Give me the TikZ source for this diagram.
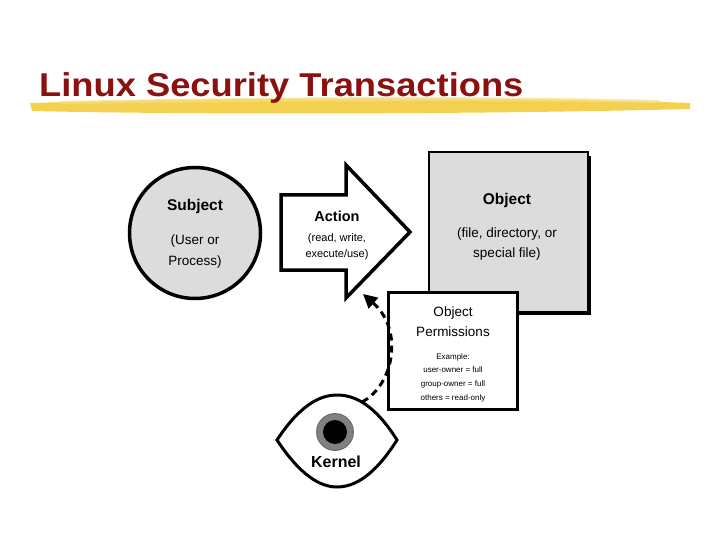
\documentclass[tikz,border=0pt]{standalone}
\usepackage{fontspec}
\setmainfont{Liberation Sans}
\usetikzlibrary{arrows.meta}
\definecolor{titlered}{HTML}{8B1010}
\definecolor{hl}{HTML}{F2C832}
\definecolor{boxgray}{HTML}{DCDCDC}
\begin{document}
\begin{tikzpicture}[x=1pt,y=-1pt,
  txt/.style={inner sep=0pt,anchor=base},
  shape line/.style={draw=black,line width=3.5pt,line join=miter}]
\useasboundingbox (0,0) rectangle (720,540);
% title
\fill[hl,opacity=0.85] (30,103) .. controls (200,98) and (500,96) .. (690,103) -- (690,109) .. controls (500,114) and (200,115) .. (32,111) -- cycle;
\fill[hl!60!white,opacity=0.7] (60,101) .. controls (300,96) and (500,96) .. (660,100) -- (660,103) .. controls (500,100) and (300,101) .. (60,104) -- cycle;
\node[txt,anchor=base west,text=titlered,xscale=1.1,font=\bfseries\fontsize{33}{33}\selectfont] (title) at (39,97) {Linux Security Transactions};
% subject
\node[circle,shape line,fill=boxgray,minimum size=131pt] (subj) at (195,233) {};
\node[txt] (subjt) at (195,211) {\bfseries\fontsize{15.5}{15.5}\selectfont Subject};
\node[txt] (subj1) at (195,244) {\fontsize{13.5}{13.5}\selectfont (User or};
\node[txt] (subj2) at (195,265) {\fontsize{13.5}{13.5}\selectfont Process)};
% object (shadow + box)
\fill[black] (432,156) rectangle (591,315);
\node[draw=black,line width=2pt,fill=boxgray,minimum width=159pt,minimum height=159pt] (obj) at (508,232) {};
\node[txt] (objt) at (507,205) {\bfseries\fontsize{15.5}{15.5}\selectfont Object};
\node[txt] (obj1) at (507,237) {\fontsize{13.5}{13.5}\selectfont (file, directory, or};
\node[txt] (obj2) at (507,258) {\fontsize{13.5}{13.5}\selectfont special file)};
% action arrow
\draw[shape line,fill=white] (281,195) -- (346,195) -- (346,165) -- (410,232) -- (346,298) -- (346,270) -- (281,270) -- cycle;
\node[txt] (act) at (337,222) {\bfseries\fontsize{14.5}{14.5}\selectfont Action};
\node[txt] (act1) at (337,241) {\fontsize{11}{11}\selectfont (read, write,};
\node[txt] (act2) at (337,258) {\fontsize{11}{11}\selectfont execute/use)};
% permissions
\node[draw=black,line width=3pt,fill=white,minimum width=129pt,minimum height=117pt] (perm) at (453,351) {};
\node[txt] (p1) at (453,316) {\fontsize{13.5}{13.5}\selectfont Object};
\node[txt] (p2) at (453,336) {\fontsize{13.5}{13.5}\selectfont Permissions};
\node[txt] (p3) at (453,359) {\fontsize{8}{8}\selectfont Example:};
\node[txt] (p4) at (453,372) {\fontsize{8}{8}\selectfont user-owner = full};
\node[txt] (p5) at (453,386) {\fontsize{8}{8}\selectfont group-owner = full};
\node[txt] (p6) at (453,400) {\fontsize{8}{8}\selectfont others = read-only};
% eye
\coordinate (eyeL) at (277,440);
\coordinate (eyeR) at (397,440);
\draw[line width=3pt,fill=white] (eyeL) .. controls (300,405) and (320,395) .. (337,395) .. controls (355,395) and (375,405) .. (eyeR) .. controls (375,475) and (355,487) .. (337,487) .. controls (320,487) and (300,475) .. (eyeL) -- cycle;
\node[circle,fill=gray,draw=black!60,line width=0.8pt,minimum size=37pt,inner sep=0pt] (iris) at (335,432) {};
\node[circle,fill=black,minimum size=24pt,inner sep=0pt] (pupil) at (iris) {};
\node[txt] (kern) at (336,467) {\bfseries\fontsize{16}{16}\selectfont Kernel};
% dashed arrow
\coordinate (dstart) at (362,402);
\draw[line width=3pt,dash pattern=on 7pt off 5pt,-{Triangle[length=14pt,width=14pt]}] (dstart) .. controls (394,385) and (404,330) .. (363,294);
\end{tikzpicture}
\end{document}
